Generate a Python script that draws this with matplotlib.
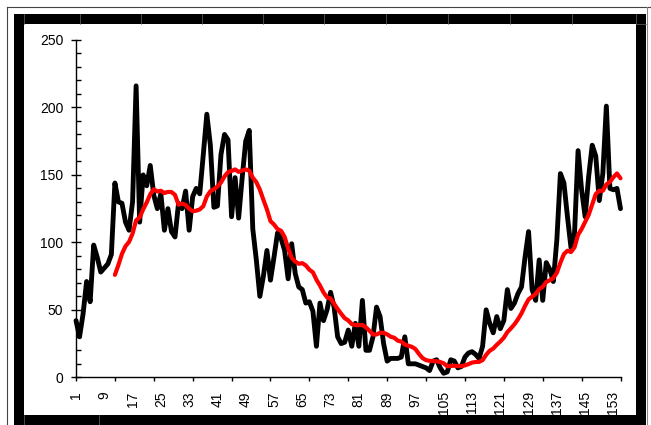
import matplotlib
matplotlib.use("Agg")
import matplotlib.pyplot as plt
from matplotlib.patches import Rectangle
from matplotlib.ticker import MultipleLocator
import pandas as pd

plt.rcParams['font.family'] = ['Liberation Sans', 'DejaVu Sans']

# ---- data ----
values = [
    42, 30, 47, 71, 56, 98, 89, 78, 81, 84,
    91, 144, 130, 129, 115, 109, 130, 216, 115, 150,
    142, 157, 135, 125, 136, 109, 125, 108, 104, 129,
    125, 138, 109, 134, 140, 136, 165, 195, 172, 126,
    127, 165, 180, 176, 119, 148, 118, 148, 175, 183,
    110, 87, 60, 75, 94, 72, 89, 107, 103, 94,
    73, 99, 77, 67, 65, 55, 56, 49, 23, 55,
    42, 50, 63, 52, 30, 25, 26, 35, 23, 40,
    23, 57, 20, 20, 30, 52, 45, 25, 12, 14,
    14, 14, 15, 30, 10, 10, 10, 9, 8, 7,
    5, 12, 13, 7, 3, 4, 13, 12, 7, 8,
    15, 18, 19, 17, 14, 23, 50, 40, 33, 45,
    36, 42, 65, 51, 55, 62, 67, 89, 108, 65,
    57, 87, 57, 85, 80, 71, 102, 151, 144, 119,
    96, 107, 168, 139, 119, 149, 172, 164, 131, 151,
    201, 140, 139, 140, 125,
]
categories = list(range(1, len(values) + 1))
ma_period = 12
x_label_positions = list(range(1, 154, 8))
x_tick_marks = list(range(1, 156, 11))
y_ticks = [0, 50, 100, 150, 200, 250]

moving_avg = pd.Series(values).rolling(ma_period).mean()

W, H = 651, 425
fig = plt.figure(figsize=(W / 100, H / 100), dpi=100)

# ---- background frame ----
bg = fig.add_axes([0, 0, 1, 1], zorder=-1)
bg.set_xlim(0, W)
bg.set_ylim(H, 0)
bg.axis('off')
# thin outer lines
bg.plot([7, 7], [7, H], color='#444444', lw=0.8)
bg.plot([7, W], [7, 7], color='#444444', lw=0.8)
# thick black border
bg.add_patch(Rectangle((13.5, 14), 10.5, H - 14, color='black', lw=0))
bg.add_patch(Rectangle((13.5, 14), 646 - 13.5, 10, color='black', lw=0))
bg.add_patch(Rectangle((636, 14), 10, H - 14, color='black', lw=0))
bg.add_patch(Rectangle((13.5, 415), 646 - 13.5, 10, color='black', lw=0))
# faint cell lines inside the black band
for gx in [23.5, 80, 141, 202, 263, 324, 386, 448, 510, 572, 635.5]:
    bg.plot([gx, gx], [14, 24], color='#666666', lw=0.5)
bg.plot([23.5, 23.5], [415, H], color='#666666', lw=0.5)
bg.plot([99, 99], [415, H], color='#666666', lw=0.5)
bg.plot([636, 646], [24, 24], color='#666666', lw=0.5)
bg.plot([646.5, 646.5], [7, H], color='#888888', lw=0.8)

# ---- chart ----
left, right = 76 / W, 620.5 / W
bottom, top = 1 - 377.3 / H, 1 - 40 / H
ax = fig.add_axes([left, bottom, right - left, top - bottom])

ax.plot(categories, values, color='black', lw=3.5,
        solid_joinstyle='round', solid_capstyle='round', clip_on=False, zorder=2)
ax.plot(categories, moving_avg, color='#FF0000', lw=3.0,
        solid_joinstyle='round', solid_capstyle='round', clip_on=False, zorder=3)

ax.set_xlim(1, 155)
ax.set_ylim(0, 250)

for s in ['top', 'right']:
    ax.spines[s].set_visible(False)
for s in ['left', 'bottom']:
    ax.spines[s].set_linewidth(1.0)
    ax.spines[s].set_color('black')

ax.set_yticks(y_ticks)
ax.set_yticklabels([str(v) for v in y_ticks], fontsize=10)
ax.yaxis.set_minor_locator(MultipleLocator(10))
ax.tick_params(axis='y', which='major', direction='inout', length=6.5,
               width=1.0, pad=6)
ax.tick_params(axis='y', which='minor', direction='in', length=3.4, width=1.0)

ax.xaxis.remove_overlapping_locs = False
ax.set_xticks(x_tick_marks)
ax.set_xticklabels([''] * len(x_tick_marks))
ax.tick_params(axis='x', which='major', direction='out', length=3, width=1.0)
ax.set_xticks(x_label_positions, minor=True)
ax.set_xticklabels([str(v) for v in x_label_positions], minor=True,
                   rotation=90, fontsize=10)
ax.tick_params(axis='x', which='minor', length=0, pad=10)

ax.set_facecolor('none')
fig.savefig('out.png', dpi=100, facecolor='white')
